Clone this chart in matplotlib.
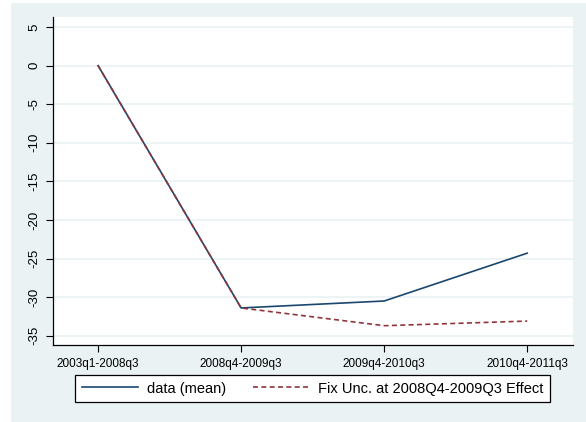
import matplotlib.pyplot as plt
from matplotlib.patches import Rectangle

plt.rcParams["font.family"] = ["Liberation Sans", "DejaVu Sans"]

# --- data ---
periods = ["2003q1-2008q3", "2008q4-2009q3", "2009q4-2010q3", "2010q4-2011q3"]
data_mean = [0.0, -31.4, -30.5, -24.3]
fixed_unc = [0.0, -31.4, -33.7, -33.1]
yticks = [5, 0, -5, -10, -15, -20, -25, -30, -35]

NAVY = "#1a476f"
MAROON = "#90353b"
BG = "#eaf2f3"

W, H = 586, 422
fig = plt.figure(figsize=(W / 100, H / 100), dpi=100)
fig.patch.set_facecolor("white")

# stata-style graph region (leaves a thin white strip left and top)
fig.add_artist(Rectangle((11 / W, 0), 1 - 11 / W, 1 - 3 / H,
                         transform=fig.transFigure, facecolor=BG,
                         edgecolor="none", zorder=-10))

ax = fig.add_axes([53 / W, 1 - 345 / H, (573 - 53) / W, (345 - 17) / H])
ax.set_facecolor("white")

x = list(range(len(periods)))
ax.plot(x, data_mean, color=NAVY, lw=1.2, label="data (mean)", zorder=3)
ax.plot(x, fixed_unc, color=MAROON, lw=1.2, ls=(0, (3, 2)),
        label="Fix Unc. at 2008Q4-2009Q3 Effect", zorder=3)

ax.set_xlim(-0.315, 3.32)
ax.set_ylim(-36.2, 6.3)
ax.set_xticks(x)
ax.set_xticklabels(periods, fontsize=8.5)
ax.set_yticks(yticks)
ax.set_yticklabels([str(v) for v in yticks], rotation=90, va="center",
                   fontsize=9.5)
ax.yaxis.grid(True, color=BG, lw=1.2)
ax.set_axisbelow(True)

for side in ("top", "right"):
    ax.spines[side].set_visible(False)
for side in ("left", "bottom"):
    ax.spines[side].set_color("black")
    ax.spines[side].set_linewidth(0.9)
ax.tick_params(length=5, width=0.8, color="black", pad=4)

leg = fig.legend(loc="center", bbox_to_anchor=((75 + 550) / 2 / W, 1 - 388.5 / H),
                 ncol=2, frameon=True, fancybox=False, fontsize=10.5,
                 handlelength=3.9, handletextpad=0.6, columnspacing=1.8,
                 borderpad=0.45, borderaxespad=0, framealpha=1)
leg.get_frame().set_edgecolor("black")
leg.get_frame().set_linewidth(0.9)

fig.savefig("out.png", dpi=100)
